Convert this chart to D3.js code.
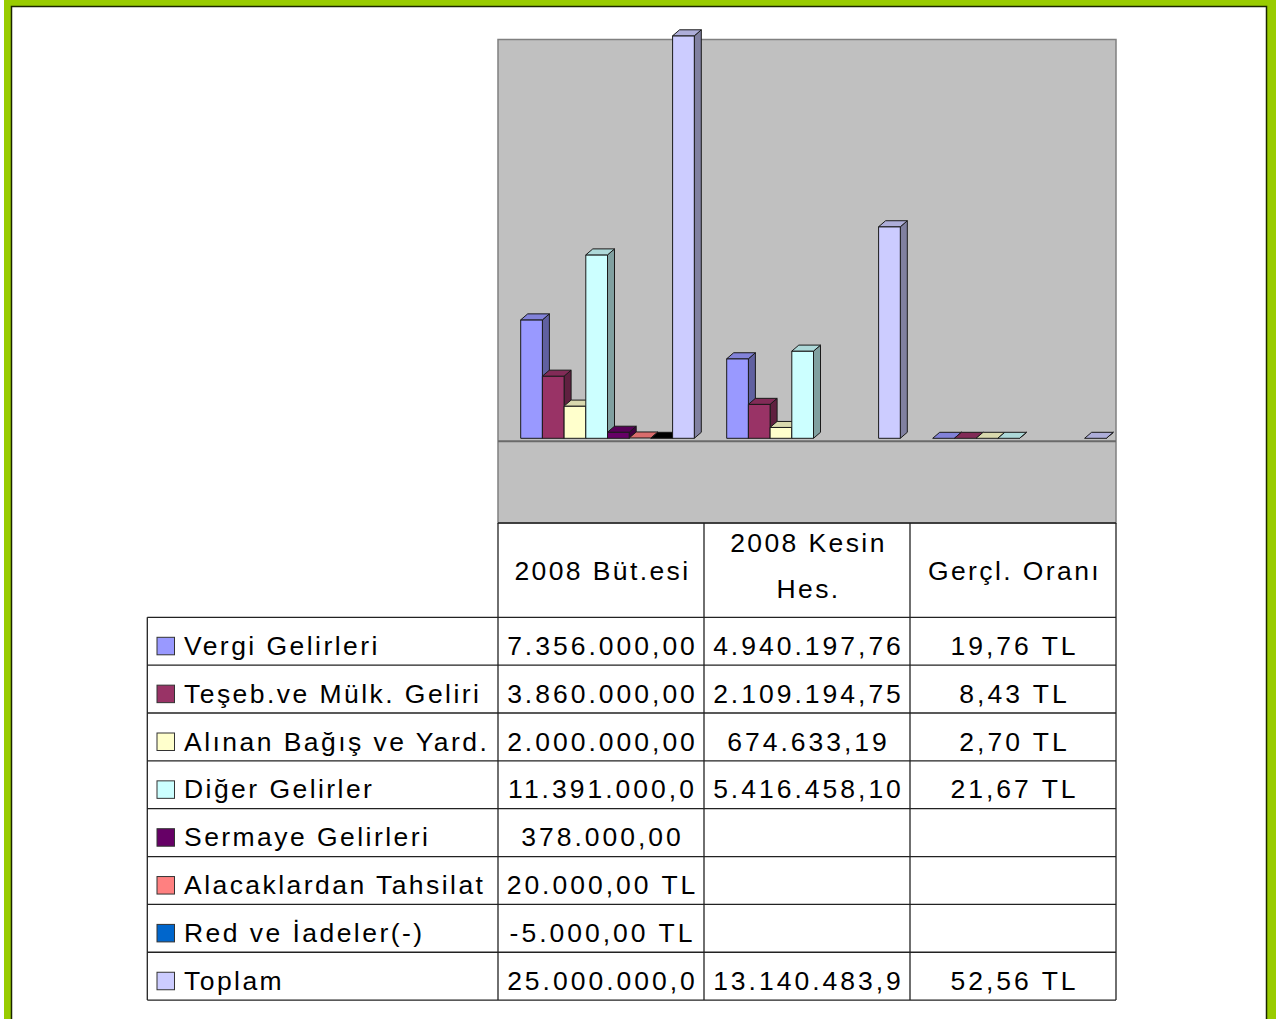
<!DOCTYPE html>
<html>
<head>
<meta charset="utf-8">
<script src="https://cdn.jsdelivr.net/npm/d3@7"></script>
<style>
  body { margin: 0; background: #fff; }
  svg { display: block; font-family: "Liberation Sans", Arial, sans-serif; }
</style>
</head>
<body>
<div id="chart"></div>
<script>
// categories (columns) and their header lines
const categories = ["2008 Büt.esi", "2008 Kesin Hes.", "Gerçl. Oranı"];
const headerLines = [["2008 Büt.esi"], ["2008 Kesin", "Hes."], ["Gerçl. Oranı"]];

// series (rows)
const seriesNames = ["Vergi Gelirleri", "Teşeb.ve Mülk. Geliri", "Alınan Bağış ve Yard.",
  "Diğer Gelirler", "Sermaye Gelirleri", "Alacaklardan Tahsilat", "Red ve İadeler(-)", "Toplam"];
const seriesColors = ["#9999ff", "#993366", "#ffffcc", "#ccffff", "#660066", "#ff8080", "#0066cc", "#ccccff"];

// values per column (null = empty cell)
const butce = [7356000, 3860000, 2000000, 11391000, 378000, 20000, -5000, 25000000];
const kesin = [4940197.76, 2109194.75, 674633.19, 5416458.10, null, null, null, 13140483.9];
const oran = [19.76, 8.43, 2.70, 21.67, null, null, null, 52.56];

// cell texts as shown in the table
const butceText = ["7.356.000,00", "3.860.000,00", "2.000.000,00", "11.391.000,0", "378.000,00", "20.000,00 TL", "-5.000,00 TL", "25.000.000,0"];
const kesinText = ["4.940.197,76", "2.109.194,75", "674.633,19", "5.416.458,10", "", "", "", "13.140.483,9"];
const oranText = ["19,76 TL", "8,43 TL", "2,70 TL", "21,67 TL", "", "", "", "52,56 TL"];

const columns = [butce, kesin, oran];
const columnTexts = [butceText, kesinText, oranText];

const width = 1276, height = 1019;
const svg = d3.select("#chart").append("svg")
  .attr("width", width)
  .attr("height", height);

// green frame
svg.append("rect").attr("x", 4).attr("y", -20).attr("width", 1300).attr("height", 1100).attr("fill", "#99cc00");
svg.append("rect").attr("x", 11.5).attr("y", 6.5).attr("width", 1255).attr("height", 1100)
  .attr("fill", "#fff").attr("stroke", "#1a2600").attr("stroke-width", 1.5);

const plot = { left: 498, right: 1116, top: 39.5, bottom: 523 };

const x0 = d3.scaleBand().domain(categories).range([plot.left, plot.right]);
const x1 = d3.scaleBand().domain(seriesNames).range([22.7, 22.7 + 8 * 21.7]);
const y = d3.scaleLinear().domain([0, 25000000]).range([438.3, 35.8]);
const dx = 7, dy = -6;

// plot background
svg.append("rect")
  .attr("x", plot.left).attr("y", plot.top)
  .attr("width", plot.right - plot.left).attr("height", plot.bottom - plot.top)
  .attr("fill", "#c0c0c0").attr("stroke", "#808080").attr("stroke-width", 1.5);

// floor line
svg.append("line")
  .attr("x1", plot.left).attr("x2", plot.right)
  .attr("y1", y(0) + 3).attr("y2", y(0) + 3)
  .attr("stroke", "#6a6a6a").attr("stroke-width", 2);

const bars = svg.append("g").attr("stroke", "#1a1a1a").attr("stroke-width", 1).attr("stroke-linejoin", "round");

categories.forEach((cat, ci) => {
  seriesNames.forEach((name, si) => {
    const v = columns[ci][si];
    if (v === null) return;
    const x = x0(cat) + x1(name);
    const w = x1.bandwidth();
    const yt = Math.min(y(v), y(0));
    const yb = Math.max(y(v), y(0));
    const base = d3.color(seriesColors[si]);
    const topCol = v < 0 ? "#000" : base.darker(0.45);
    const sideCol = base.darker(1.3);
    const g = bars.append("g");
    // side face
    g.append("path")
      .attr("d", `M${x + w},${yt}L${x + w + dx},${yt + dy}L${x + w + dx},${yb + dy}L${x + w},${yb}Z`)
      .attr("fill", sideCol);
    // front face
    if (yb - yt > 0.5) {
      g.append("rect").attr("x", x).attr("y", yt).attr("width", w).attr("height", yb - yt)
        .attr("fill", base);
    }
    // top face
    g.append("path")
      .attr("d", `M${x},${yt}L${x + dx},${yt + dy}L${x + w + dx},${yt + dy}L${x + w},${yt}Z`)
      .attr("fill", topCol);
  });
});

// table
const rowTop = 617.3, rowH = 47.85;
const tableLeft = 147.3;
const rowY = i => rowTop + i * rowH;
const tableBottom = rowY(seriesNames.length);
const lineCol = "#222";
const grid = svg.append("g").attr("stroke", lineCol).attr("stroke-width", 1.3);

// column verticals
[plot.left, x0(categories[1]), x0(categories[2]), plot.right].forEach(cx => {
  grid.append("line").attr("x1", cx).attr("x2", cx).attr("y1", plot.bottom).attr("y2", tableBottom);
});
grid.append("line").attr("x1", tableLeft).attr("x2", tableLeft).attr("y1", rowTop).attr("y2", tableBottom);
grid.append("line").attr("x1", plot.left).attr("x2", plot.right).attr("y1", plot.bottom).attr("y2", plot.bottom);
d3.range(seriesNames.length + 1).forEach(i => {
  grid.append("line").attr("x1", tableLeft).attr("x2", plot.right).attr("y1", rowY(i)).attr("y2", rowY(i));
});

// header texts
const baselines = { 1: [579.5], 2: [551.5, 597.5] };
categories.forEach((cat, ci) => {
  const lines = headerLines[ci];
  baselines[lines.length].forEach((by, li) => {
    svg.append("text")
      .attr("x", x0(cat) + x0.bandwidth() / 2 + 1.5)
      .attr("y", by)
      .attr("text-anchor", "middle")
      .attr("font-size", 26.5)
      .attr("letter-spacing", 2.4)
      .text(lines[li]);
  });
});

// rows
seriesNames.forEach((name, si) => {
  const top = rowY(si);
  svg.append("rect")
    .attr("x", 157).attr("y", top + 20).attr("width", 17.5).attr("height", 17.5)
    .attr("fill", seriesColors[si]).attr("stroke", "#333").attr("stroke-width", 1);
  svg.append("text")
    .attr("x", 184).attr("y", top + 37.5)
    .attr("font-size", 26.5)
    .attr("letter-spacing", 2.45)
    .text(name);
  categories.forEach((cat, ci) => {
    const t = columnTexts[ci][si];
    if (!t) return;
    svg.append("text")
      .attr("x", x0(cat) + x0.bandwidth() / 2 + 1.5)
      .attr("y", top + 37.5)
      .attr("text-anchor", "middle")
      .attr("font-size", 26.5)
      .attr("letter-spacing", 3.0)
      .text(t);
  });
});
</script>
</body>
</html>
